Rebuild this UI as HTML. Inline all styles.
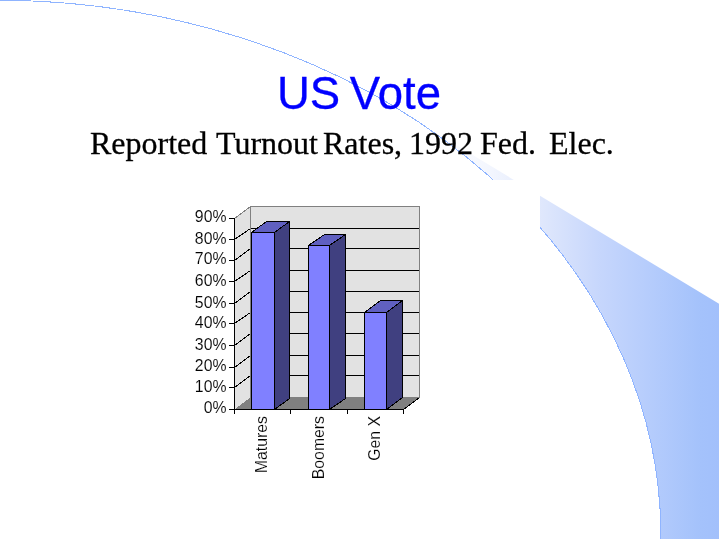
<!DOCTYPE html>
<html><head><meta charset="utf-8">
<style>
html,body{margin:0;padding:0;background:#fff;}
body{width:719px;height:539px;position:relative;overflow:hidden;}
svg{position:absolute;left:0;top:0;will-change:transform;}
.t{position:absolute;white-space:nowrap;}
#title{font-family:"Liberation Sans",sans-serif;font-size:45.5px;color:#0000ff;left:277px;top:69px;line-height:50px;word-spacing:-3px;-webkit-text-stroke:0.3px #0000ff;}
.w{font-family:"Liberation Serif",serif;font-size:32px;color:#000;top:125px;line-height:36px;-webkit-text-stroke:0.3px #000;}
</style></head>
<body>
<svg width="719" height="539" viewBox="0 0 719 539">
<defs>
<linearGradient id="g" gradientUnits="userSpaceOnUse" x1="429" y1="0" x2="719" y2="0">
<stop offset="0.0000" stop-color="#ffffff"/>
<stop offset="0.2103" stop-color="#f3f6fe"/>
<stop offset="0.3828" stop-color="#e0e8fc"/>
<stop offset="0.5897" stop-color="#c6d6fc"/>
<stop offset="0.7621" stop-color="#b5ccfc"/>
<stop offset="0.9345" stop-color="#a4c2fb"/>
<stop offset="1.0000" stop-color="#a2c0fb"/>
</linearGradient>
</defs>
<path d="M429.2 128.85 L719 303.7 L719 545 L660.86 545 L660.86 534.9 A664.13 535.04 0 0 0 429.2 128.85 Z" fill="url(#g)"/>
<path transform="translate(0,0.35)" d="M-3.27 -0.14 A664.13 535.04 0 0 1 660.86 534.9 L660.86 545" fill="none" stroke="#8fb4ff" stroke-width="1" shape-rendering="crispEdges"/>
</svg>
<div id="title" class="t">US Vote</div>
<div class="t w" style="left:90px">Reported</div>
<div class="t w" style="left:216px">Turnout</div>
<div class="t w" style="left:323px">Rates,</div>
<div class="t w" style="left:409px">1992</div>
<div class="t w" style="left:480px">Fed.</div>
<div class="t w" style="left:549px">Elec.</div>
<svg width="719" height="539" viewBox="0 0 719 539">
<rect x="150" y="180" width="390" height="320" fill="#fff"/>
<g shape-rendering="crispEdges">
<polygon points="234.5,409.5 234.5,218.5 250.5,206.5 250.5,397.5" fill="#e2e2e2"/>
<rect x="250.5" y="206.5" width="169" height="191" fill="#e2e2e2" stroke="#808080"/>
<line x1="234.5" y1="218.5" x2="250.5" y2="206.5" stroke="#808080"/>
<polygon points="234.5,409.5 403.5,409.5 419.5,397.5 250.5,397.5" fill="#808080"/>
<line x1="251" y1="375.5" x2="419" y2="375.5" stroke="#000"/>
<line x1="234.5" y1="387.5" x2="250.5" y2="375.5" stroke="#000"/>
<line x1="251" y1="355.5" x2="419" y2="355.5" stroke="#000"/>
<line x1="234.5" y1="367.5" x2="250.5" y2="355.5" stroke="#000"/>
<line x1="251" y1="333.5" x2="419" y2="333.5" stroke="#000"/>
<line x1="234.5" y1="345.5" x2="250.5" y2="333.5" stroke="#000"/>
<line x1="251" y1="312.5" x2="419" y2="312.5" stroke="#000"/>
<line x1="234.5" y1="323.5" x2="250.5" y2="312.5" stroke="#000"/>
<line x1="251" y1="291.5" x2="419" y2="291.5" stroke="#000"/>
<line x1="234.5" y1="303.5" x2="250.5" y2="291.5" stroke="#000"/>
<line x1="251" y1="270.5" x2="419" y2="270.5" stroke="#000"/>
<line x1="234.5" y1="281.5" x2="250.5" y2="270.5" stroke="#000"/>
<line x1="251" y1="248.5" x2="419" y2="248.5" stroke="#000"/>
<line x1="234.5" y1="260.5" x2="250.5" y2="248.5" stroke="#000"/>
<line x1="251" y1="228.5" x2="419" y2="228.5" stroke="#000"/>
<line x1="234.5" y1="239.5" x2="250.5" y2="228.5" stroke="#000"/>
<line x1="403.5" y1="409.5" x2="419.5" y2="397.5" stroke="#000"/>
<polygon points="251.5,232.5 266.5,221.5 289.5,221.5 274.5,232.5" fill="#6060c0" stroke="#000"/>
<polygon points="274.5,232.5 289.5,221.5 289.5,398.5 274.5,409.5" fill="#404080" stroke="#000"/>
<rect x="251.5" y="232.5" width="23.0" height="177.0" fill="#8080ff" stroke="#000"/>
<polygon points="308.5,245.5 324.5,234.5 345.5,234.5 329.5,245.5" fill="#6060c0" stroke="#000"/>
<polygon points="329.5,245.5 345.5,234.5 345.5,398.5 329.5,409.5" fill="#404080" stroke="#000"/>
<rect x="308.5" y="245.5" width="21.0" height="164.0" fill="#8080ff" stroke="#000"/>
<polygon points="364.5,312.5 380.5,300.5 402.5,300.5 386.5,312.5" fill="#6060c0" stroke="#000"/>
<polygon points="386.5,312.5 402.5,300.5 402.5,397.5 386.5,409.5" fill="#404080" stroke="#000"/>
<rect x="364.5" y="312.5" width="22.0" height="97.0" fill="#8080ff" stroke="#000"/>
<line x1="234.5" y1="218" x2="234.5" y2="414" stroke="#000"/>
<line x1="234" y1="409.5" x2="404" y2="409.5" stroke="#000"/>
<line x1="229" y1="409.5" x2="234" y2="409.5" stroke="#000"/>
<line x1="229" y1="387.5" x2="234" y2="387.5" stroke="#000"/>
<line x1="229" y1="367.5" x2="234" y2="367.5" stroke="#000"/>
<line x1="229" y1="345.5" x2="234" y2="345.5" stroke="#000"/>
<line x1="229" y1="323.5" x2="234" y2="323.5" stroke="#000"/>
<line x1="229" y1="303.5" x2="234" y2="303.5" stroke="#000"/>
<line x1="229" y1="281.5" x2="234" y2="281.5" stroke="#000"/>
<line x1="229" y1="260.5" x2="234" y2="260.5" stroke="#000"/>
<line x1="229" y1="239.5" x2="234" y2="239.5" stroke="#000"/>
<line x1="229" y1="218.5" x2="234" y2="218.5" stroke="#000"/>
<line x1="234.5" y1="409" x2="234.5" y2="414" stroke="#000"/>
<line x1="290.5" y1="409" x2="290.5" y2="414" stroke="#000"/>
<line x1="347.5" y1="409" x2="347.5" y2="414" stroke="#000"/>
<line x1="403.5" y1="409" x2="403.5" y2="414" stroke="#000"/>
</g>
<g font-family="Liberation Sans, sans-serif" font-size="17" fill="#000" stroke="#fff" stroke-width="0.12" paint-order="normal">
<text transform="translate(226.5,413) scale(0.93,1)" text-anchor="end">0%</text>
<text transform="translate(226.5,392) scale(0.93,1)" text-anchor="end">10%</text>
<text transform="translate(226.5,371) scale(0.93,1)" text-anchor="end">20%</text>
<text transform="translate(226.5,350) scale(0.93,1)" text-anchor="end">30%</text>
<text transform="translate(226.5,328) scale(0.93,1)" text-anchor="end">40%</text>
<text transform="translate(226.5,308) scale(0.93,1)" text-anchor="end">50%</text>
<text transform="translate(226.5,286) scale(0.93,1)" text-anchor="end">60%</text>
<text transform="translate(226.5,264) scale(0.93,1)" text-anchor="end">70%</text>
<text transform="translate(226.5,244) scale(0.93,1)" text-anchor="end">80%</text>
<text transform="translate(226.5,222) scale(0.93,1)" text-anchor="end">90%</text>
<text transform="translate(267,416) rotate(-90) scale(0.93,1)" text-anchor="end">Matures</text>
<text transform="translate(324,416) rotate(-90) scale(0.93,1)" text-anchor="end">Boomers</text>
<text transform="translate(380,416) rotate(-90) scale(0.93,1)" text-anchor="end">Gen X</text>
</g>
</svg>
</body></html>
